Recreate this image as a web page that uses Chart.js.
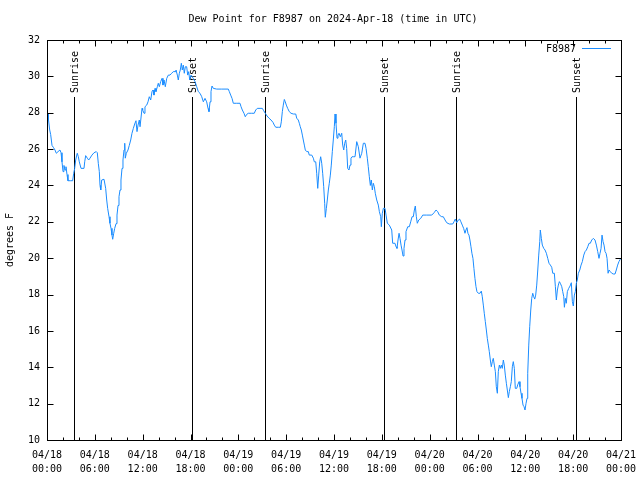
<!DOCTYPE html>
<html><head><meta charset="utf-8">
<script src="https://cdn.jsdelivr.net/npm/chart.js@4.4.1/dist/chart.umd.min.js"></script>
<style>html,body{margin:0;padding:0;background:#fff}#wrap{width:640px;height:480px}</style>
</head><body><div id="wrap"><canvas id="c" width="640" height="480"></canvas></div>
<script>
const chartTitle = 'Dew Point for F8987 on 2024-Apr-18 (time in UTC)';
const seriesName = 'F8987';
const yAxisTitle = 'degrees F';
const xTickLabels = ['04/18 00:00','04/18 06:00','04/18 12:00','04/18 18:00','04/19 00:00','04/19 06:00','04/19 12:00','04/19 18:00','04/20 00:00','04/20 06:00','04/20 12:00','04/20 18:00','04/21 00:00'];
const yMin = 10, yMax = 32, yStep = 2;
const eventHours = [3.39, 18.23, 27.4, 42.3, 51.35, 66.4];
const eventLabels = ['Sunrise','Sunset','Sunrise','Sunset','Sunrise','Sunset'];
// hours since 2024-04-18 00:00 UTC
const hours = [
0.13,0.19,0.34,0.46,0.63,0.79,1.00,1.17,1.38,1.63,
1.76,1.88,2.01,2.13,2.26,2.38,2.51,2.63,2.97,3.22,
3.35,3.47,3.60,3.73,3.80,3.93,4.05,4.27,4.64,4.73,
4.85,5.06,5.23,5.39,5.64,5.90,6.18,6.31,6.44,6.56,
6.65,6.74,6.86,7.15,7.36,7.49,7.61,7.78,7.90,8.03,
8.15,8.24,8.37,8.49,8.66,8.78,8.91,9.03,9.16,9.28,
9.41,9.53,9.66,9.75,9.82,9.95,10.16,10.32,10.50,10.66,
10.83,11.00,11.16,11.29,11.42,11.58,11.67,11.92,12.00,12.17,
12.29,12.51,12.67,12.83,13.01,13.17,13.30,13.42,13.55,13.67,
13.84,13.96,14.09,14.26,14.43,14.55,14.68,14.84,15.02,15.22,
15.43,15.64,15.84,16.06,16.18,16.35,16.47,16.60,16.72,16.85,
16.97,17.10,17.22,17.35,17.52,17.65,17.78,17.90,18.06,18.35,
18.57,18.78,18.98,19.19,19.41,19.61,19.82,20.03,20.20,20.32,
20.45,20.57,20.70,20.86,21.29,21.91,22.74,22.87,23.04,23.21,
23.37,23.80,24.21,24.34,24.50,24.71,24.87,25.05,25.25,25.68,
26.00,26.18,26.38,26.72,27.01,27.18,27.38,27.60,27.85,28.10,
28.35,28.51,28.69,29.01,29.27,29.39,29.52,29.64,29.77,29.89,
30.02,30.19,30.39,30.61,30.90,31.20,31.32,31.52,31.65,31.77,
31.90,32.03,32.15,32.28,32.40,32.58,32.78,32.90,33.21,33.41,
33.53,33.71,33.83,33.96,34.08,34.21,34.33,34.46,34.58,34.71,
34.83,34.91,35.04,35.16,35.29,35.41,35.54,35.66,35.79,35.91,
36.04,36.13,36.25,36.38,36.50,36.63,36.79,36.97,37.09,37.22,
37.34,37.47,37.59,37.72,37.88,38.01,38.13,38.26,38.47,38.64,
38.85,39.05,39.26,39.48,39.68,39.89,40.02,40.18,40.30,40.43,
40.56,40.68,40.81,40.93,41.06,41.18,41.36,41.56,41.69,41.86,
41.94,42.06,42.19,42.40,42.53,42.69,42.94,43.24,43.36,43.65,
43.78,43.90,44.03,44.16,44.28,44.41,44.53,44.66,44.78,44.91,
45.03,45.25,45.45,45.62,45.79,45.95,46.08,46.20,46.33,46.45,
46.63,46.88,47.13,47.63,48.26,48.55,48.80,49.01,49.21,49.51,
49.71,49.93,50.14,50.46,50.89,51.05,51.21,51.39,51.59,51.76,
51.92,52.09,52.26,52.43,52.55,52.68,52.80,52.93,53.05,53.18,
53.30,53.43,53.55,53.68,53.81,53.93,54.10,54.31,54.48,54.60,
54.73,54.85,54.98,55.11,55.23,55.36,55.48,55.61,55.73,55.86,
55.98,56.11,56.24,56.36,56.49,56.61,56.74,56.86,56.99,57.11,
57.24,57.36,57.49,57.62,57.74,57.87,57.99,58.12,58.24,58.37,
58.49,58.62,58.74,58.92,59.04,59.21,59.33,59.46,59.58,59.71,
59.84,59.96,60.09,60.21,60.30,60.43,60.55,60.68,60.80,60.93,
61.05,61.18,61.30,61.43,61.56,61.68,61.81,61.88,62.01,62.13,
62.31,62.47,62.64,62.81,62.97,63.14,63.31,63.44,63.64,63.77,
63.89,64.02,64.14,64.27,64.39,64.57,64.69,64.82,64.90,65.02,
65.14,65.27,65.44,65.61,65.77,65.90,66.02,66.15,66.27,66.40,
66.52,66.65,66.83,66.99,67.15,67.33,67.49,67.66,67.83,67.99,
68.15,68.33,68.53,68.74,68.91,69.08,69.24,69.37,69.50,69.62,
69.75,69.87,70.00,70.13,70.25,70.38,70.50,70.66,70.84,71.04,
71.25,71.41,71.58,71.74,71.91,72.00];
const dewPoint = [
27.93,27.6,27.05,26.8,26.2,26.1,25.95,25.77,25.86,25.95,
25.8,25.3,24.76,25.1,24.85,25.03,24.6,24.26,24.26,24.26,
24.67,24.94,25.4,25.67,25.77,25.58,25.3,24.94,24.94,25.3,
25.64,25.5,25.4,25.5,25.67,25.8,25.86,25.8,25.2,24.76,
24.0,23.75,24.3,24.34,23.84,23.2,22.74,22.28,21.92,21.64,
21.27,21.04,21.37,21.64,21.9,22.37,22.9,23.38,23.75,24.3,
24.94,25.4,25.95,26.32,25.5,25.77,25.95,26.2,26.5,26.87,
27.14,27.38,27.56,26.96,27.32,27.6,27.23,28.24,28.15,27.97,
28.33,28.42,28.6,28.88,28.7,29.16,29.25,28.97,29.34,29.16,
29.43,29.62,29.43,29.71,29.89,29.52,29.8,29.43,29.89,30.07,
30.07,30.17,30.26,30.26,30.35,30.07,29.8,30.17,30.35,30.72,
30.35,30.62,30.17,30.53,30.53,30.07,30.26,29.8,30.07,29.89,
29.71,29.43,29.16,29.07,28.88,28.6,28.79,28.6,28.24,28.06,
28.6,29.16,29.47,29.34,29.3,29.3,29.3,29.16,28.97,28.79,
28.52,28.52,28.52,28.33,28.15,27.97,27.78,27.91,27.97,27.97,
27.97,28.15,28.24,28.24,28.24,28.11,27.97,27.82,27.7,27.6,
27.47,27.32,27.2,27.2,27.2,27.5,28.06,28.42,28.73,28.6,
28.42,28.24,28.06,27.97,27.93,27.93,27.7,27.6,27.42,27.23,
27.05,26.77,26.5,26.22,25.95,25.86,25.86,25.67,25.67,25.5,
25.3,25.3,24.67,23.84,24.57,25.3,25.58,25.22,24.67,23.93,
23.02,22.25,22.74,23.2,23.75,24.12,24.57,25.12,25.86,26.5,
27.23,27.93,27.42,26.6,26.77,26.87,26.68,26.87,26.22,25.95,
26.32,26.5,26.04,24.94,24.85,25.12,25.5,25.58,25.58,25.58,
26.41,26.13,25.5,25.77,26.32,26.32,26.04,25.5,25.03,24.48,
24.0,24.3,23.75,24.12,23.93,23.57,23.2,22.92,22.56,22.28,
21.73,22.47,22.74,22.74,22.37,21.92,21.82,21.55,20.82,20.82,
20.63,20.54,21.0,21.37,21.09,20.72,20.45,20.12,20.54,21.0,
21.46,21.73,21.73,22.0,22.28,22.28,22.65,22.87,22.28,21.92,
22.1,22.19,22.37,22.37,22.37,22.5,22.65,22.56,22.37,22.28,
22.28,22.1,21.95,21.88,21.88,22.0,22.15,21.95,22.1,22.15,
22.0,21.82,21.64,21.37,21.55,21.68,21.37,21.27,21.0,20.63,
20.27,19.99,19.44,18.89,18.43,18.16,18.07,18.07,18.19,17.88,
17.42,16.97,16.51,16.05,15.59,15.22,14.86,14.4,14.03,14.31,
14.49,14.12,13.76,12.93,12.57,13.76,14.12,13.94,14.12,13.94,
14.4,14.12,13.57,13.12,12.75,12.33,12.66,12.93,13.21,14.03,
14.31,13.94,12.84,12.84,13.03,13.21,12.93,12.57,12.29,11.92,
11.83,11.65,12.02,12.29,13.67,15.22,16.23,17.15,17.79,18.07,
17.88,17.75,17.97,18.52,19.35,20.17,20.91,21.55,21.09,20.72,
20.54,20.45,20.27,19.99,19.72,19.62,19.5,19.17,19.17,18.43,
17.7,18.25,18.52,18.71,18.62,18.43,18.16,17.88,17.3,17.79,
17.52,18.16,18.34,18.47,18.65,17.61,17.37,17.97,18.16,18.62,
18.8,19.17,19.35,19.62,19.81,20.17,20.36,20.45,20.63,20.82,
20.82,21.0,21.09,21.0,20.72,20.36,19.99,20.27,20.54,21.27,
20.91,20.72,20.36,20.27,19.99,19.17,19.35,19.26,19.17,19.13,
19.13,19.35,19.62,19.81,19.94,20.0];

const FONT = "'DejaVu Sans Mono', 'Liberation Mono', monospace";
const lineColor = '#1a8cff';

const overlay = {
  id: 'overlay',
  beforeDatasetsDraw(chart) {
    const ctx = chart.ctx, x = chart.scales.x, a = chart.chartArea;
    ctx.save();
    ctx.strokeStyle = '#000'; ctx.lineWidth = 1;
    ctx.fillStyle = '#000'; ctx.font = '10px ' + FONT;
    eventHours.forEach((h, i) => {
      const px = Math.round(x.getPixelForValue(h)) + 0.5;
      ctx.beginPath(); ctx.moveTo(px, 97); ctx.lineTo(px, a.bottom); ctx.stroke();
      ctx.save();
      ctx.translate(px + 1, 93);
      ctx.rotate(-Math.PI / 2);
      ctx.textAlign = 'left'; ctx.textBaseline = 'middle';
      ctx.fillText(eventLabels[i], 0, 0);
      ctx.restore();
    });
    ctx.restore();
  },
  afterDraw(chart) {
    const ctx = chart.ctx, a = chart.chartArea, x = chart.scales.x, y = chart.scales.y;
    ctx.save();
    ctx.strokeStyle = '#000'; ctx.lineWidth = 1;
    const L = Math.round(a.left) + 0.5, R = Math.round(a.right) + 0.5, T = Math.round(a.top) + 0.5, B = Math.round(a.bottom) + 0.5;
    ctx.strokeRect(L, T, R - L, B - T);
    ctx.beginPath();
    for (let h = 0; h <= 72; h += 2) {
      const px = Math.round(x.getPixelForValue(h)) + 0.5;
      const len = (h % 6 === 0) ? 6 : 3;
      ctx.moveTo(px, B); ctx.lineTo(px, B - len);
      ctx.moveTo(px, T); ctx.lineTo(px, T + len);
    }
    for (let v = yMin; v <= yMax; v += yStep) {
      const py = Math.round(y.getPixelForValue(v)) + 0.5;
      ctx.moveTo(L, py); ctx.lineTo(L + 6, py);
      ctx.moveTo(R, py); ctx.lineTo(R - 6, py);
    }
    ctx.stroke();
    // title
    ctx.fillStyle = '#000'; ctx.font = '10px ' + FONT;
    ctx.textAlign = 'center'; ctx.textBaseline = 'middle';
    ctx.fillText(chartTitle, 333, 19);
    // legend
    const ds = chart.data.datasets[0];
    ctx.textAlign = 'right';
    ctx.fillText(ds.label, 576, 49);
    ctx.strokeStyle = ds.borderColor;
    ctx.beginPath(); ctx.moveTo(582, 48.5); ctx.lineTo(611, 48.5); ctx.stroke();
    ctx.restore();
  }
};

new Chart(document.getElementById('c'), {
  type: 'line',
  data: {
    datasets: [{
      label: seriesName,
      data: hours.map((h, i) => ({ x: h, y: dewPoint[i] })),
      borderColor: lineColor,
      borderWidth: 1,
      pointRadius: 0,
      tension: 0,
      fill: false
    }]
  },
  options: {
    responsive: false,
    animation: false,
    devicePixelRatio: 1,
    layout: { padding: { top: 40, right: 19, left: 0, bottom: 0 } },
    plugins: { legend: { display: false }, title: { display: false }, tooltip: { enabled: false } },
    scales: {
      x: {
        type: 'linear', min: 0, max: 72,
        afterBuildTicks: s => { s.ticks = xTickLabels.map((_, i) => ({ value: i * 6 })); },
        ticks: {
          autoSkip: false, maxRotation: 0, minRotation: 0, padding: 8,
          color: '#000', font: { family: FONT, size: 10, lineHeight: 1.45 },
          callback: v => xTickLabels[Math.round(v / 6)].split(' ')
        },
        grid: { display: false, drawTicks: false },
        border: { display: false },
        afterFit: s => { s.height = 40; s.paddingLeft = 0; s.paddingRight = 0; }
      },
      y: {
        min: yMin, max: yMax,
        ticks: { stepSize: yStep, padding: 7, color: '#000', font: { family: FONT, size: 10 } },
        grid: { display: false, drawTicks: false },
        border: { display: false },
        title: { display: true, text: yAxisTitle, color: '#000', font: { family: FONT, size: 10 }, padding: { top: 4, bottom: 0 } },
        afterFit: s => { s.width = 47; s.paddingTop = 0; s.paddingBottom = 0; }
      }
    }
  },
  plugins: [overlay]
});
</script>
</body></html>
